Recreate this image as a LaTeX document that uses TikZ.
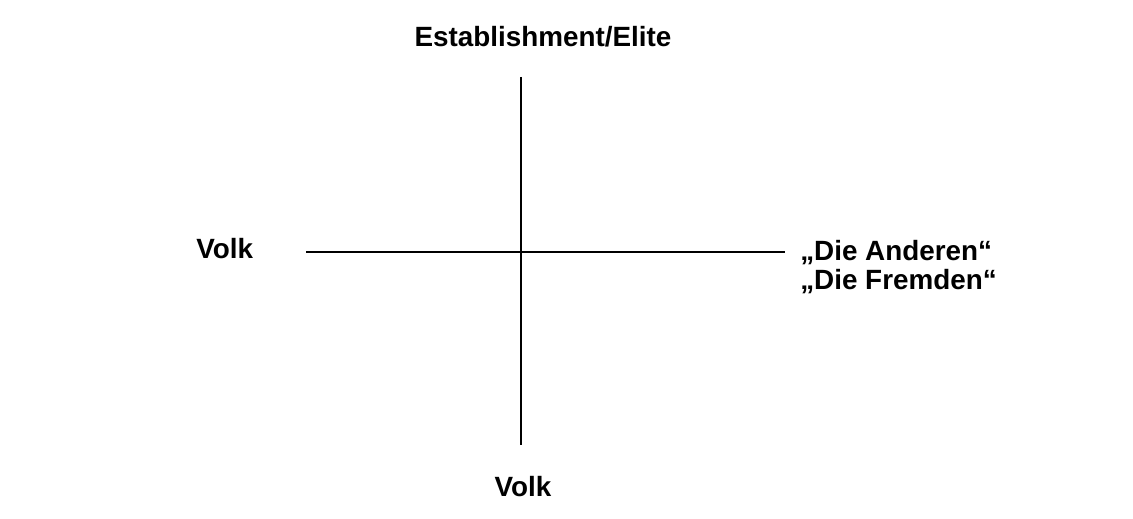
\documentclass[tikz,border=0pt]{standalone}
\usepackage{fontspec}
\setmainfont{Liberation Sans}
\usetikzlibrary{positioning}

\begin{document}
\begin{tikzpicture}[x=0.025cm, y=-0.025cm, every node/.style={font=\bfseries\fontsize{19.8}{20.3}\selectfont, inner sep=0pt}, axis/.style={line width=1.4pt}]
    \useasboundingbox (0,0) rectangle (1133,519);
    \coordinate (top) at (521,77);
    \coordinate (bottom) at (521,445);
    \coordinate (left) at (306,252);
    \coordinate (right) at (785,252);

    \node[] (elite) at (543,37) {Establishment/Elite};
    \node[anchor=west] (volkleft) at (196,249) {Volk};
    \node[anchor=north west, align=left] (fremde) at (800,240) {„Die Anderen“\\„Die Fremden“};
    \node[] (volkbottom) at (523,487) {Volk};

    \draw[axis] (top) -- (bottom);
    \draw[axis] (left) -- (right);
\end{tikzpicture}
\end{document}
